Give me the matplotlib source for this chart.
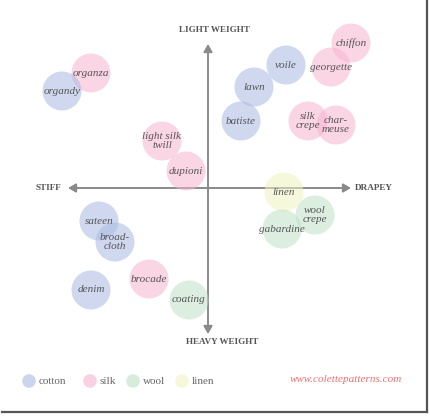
import matplotlib
matplotlib.use("Agg")
import matplotlib.pyplot as plt
from matplotlib.patches import Circle, FancyArrowPatch
from matplotlib.lines import Line2D

# fabric positions: x = drape (+ drapey / - stiff), y = weight (+ light / - heavy)
fabrics = ["organza", "organdy", "chiffon", "georgette", "voile", "lawn", "batiste",
           "silk\ncrepe", "char-\nmeuse", "light silk\ntwill", "dupioni", "linen",
           "wool\ncrepe", "gabardine", "sateen", "broad-\ncloth", "denim", "brocade", "coating"]
fibers = ["silk", "cotton", "silk", "silk", "cotton", "cotton", "cotton",
          "silk", "silk", "silk", "silk", "linen",
          "wool", "wool", "cotton", "cotton", "cotton", "silk", "wool"]
drape = [-11.7, -14.6, 14.3, 12.3, 7.8, 4.6, 3.3,
         10.0, 12.8, -4.6, -2.2, 7.6,
         10.7, 7.4, -10.9, -9.3, -11.7, -5.9, -1.9]
weight = [11.5, 9.7, 14.5, 12.1, 12.3, 10.1, 6.7,
          6.7, 6.3, 4.7, 1.7, -0.4,
          -2.7, -4.1, -3.3, -5.4, -10.2, -9.1, -11.2]

legend_fibers = ["cotton", "silk", "wool", "linen"]
fiber_colors = {"cotton": "#a9b9e0", "silk": "#f7b3cf", "wool": "#bfe0c7", "linen": "#f0f4c0"}

fig = plt.figure(figsize=(4.30, 4.16), dpi=100)
ax = fig.add_axes([0, 0, 1, 1])
ax.set_xlim(-20.8, 22.2)
ax.set_ylim(-22.8, 18.8)
ax.set_aspect("equal")
ax.axis("off")

axis_col = "#8a8a8a"
arr = dict(arrowstyle="-|>,head_length=4.5,head_width=2.6", mutation_scale=1.0,
           color=axis_col, lw=1.4, zorder=1, shrinkA=0, shrinkB=0)
# axes arrows (double headed)
ax.add_patch(FancyArrowPatch((0, 0), (14.3, 0), **arr))
ax.add_patch(FancyArrowPatch((0, 0), (-14.0, 0), **arr))
ax.add_patch(FancyArrowPatch((0, 0), (0, 14.4), **arr))
ax.add_patch(FancyArrowPatch((0, 0), (0, -14.6), **arr))

lab_kw = dict(fontfamily="Liberation Serif", fontsize=6.6, fontweight="bold", color="#555555",
              ha="center", va="center")
ax.text(0.6, 15.8, "LIGHT WEIGHT", **lab_kw)
ax.text(1.4, -15.4, "HEAVY WEIGHT", **lab_kw)
ax.text(-16.0, 0, "STIFF", **lab_kw)
ax.text(16.6, 0, "DRAPEY", **lab_kw)

for name, fib, x, y in zip(fabrics, fibers, drape, weight):
    ax.add_patch(Circle((x, y), 1.95, facecolor=fiber_colors[fib], alpha=0.55,
                        edgecolor="none", zorder=2))
    ax.text(x, y, name, fontfamily="Liberation Serif", fontstyle="italic", fontsize=8,
            color="#555555", ha="center", va="center", linespacing=1.05, zorder=3)

# legend
leg_x = [-17.9, -11.8, -7.5, -2.6]
for fib, lx in zip(legend_fibers, leg_x):
    ax.add_patch(Circle((lx, -19.3), 0.68, facecolor=fiber_colors[fib], alpha=0.6,
                        edgecolor="none", zorder=2))
    ax.text(lx + 0.95, -19.3, fib, fontfamily="Liberation Serif", fontsize=8,
            color="#666666", ha="left", va="center")

ax.text(19.4, -19.2, "www.colettepatterns.com", fontfamily="Liberation Serif",
        fontstyle="italic", fontsize=8, color="#f07070", ha="right", va="center")

# frame shadow on right and bottom
fig.add_artist(Line2D([427 / 430, 427 / 430], [1, 4 / 416], transform=fig.transFigure,
                      color="#555555", lw=1.6))
fig.add_artist(Line2D([2 / 430, 427 / 430], [4 / 416, 4 / 416], transform=fig.transFigure,
                      color="#555555", lw=1.6))

fig.savefig("out.png", dpi=100, facecolor="white")
